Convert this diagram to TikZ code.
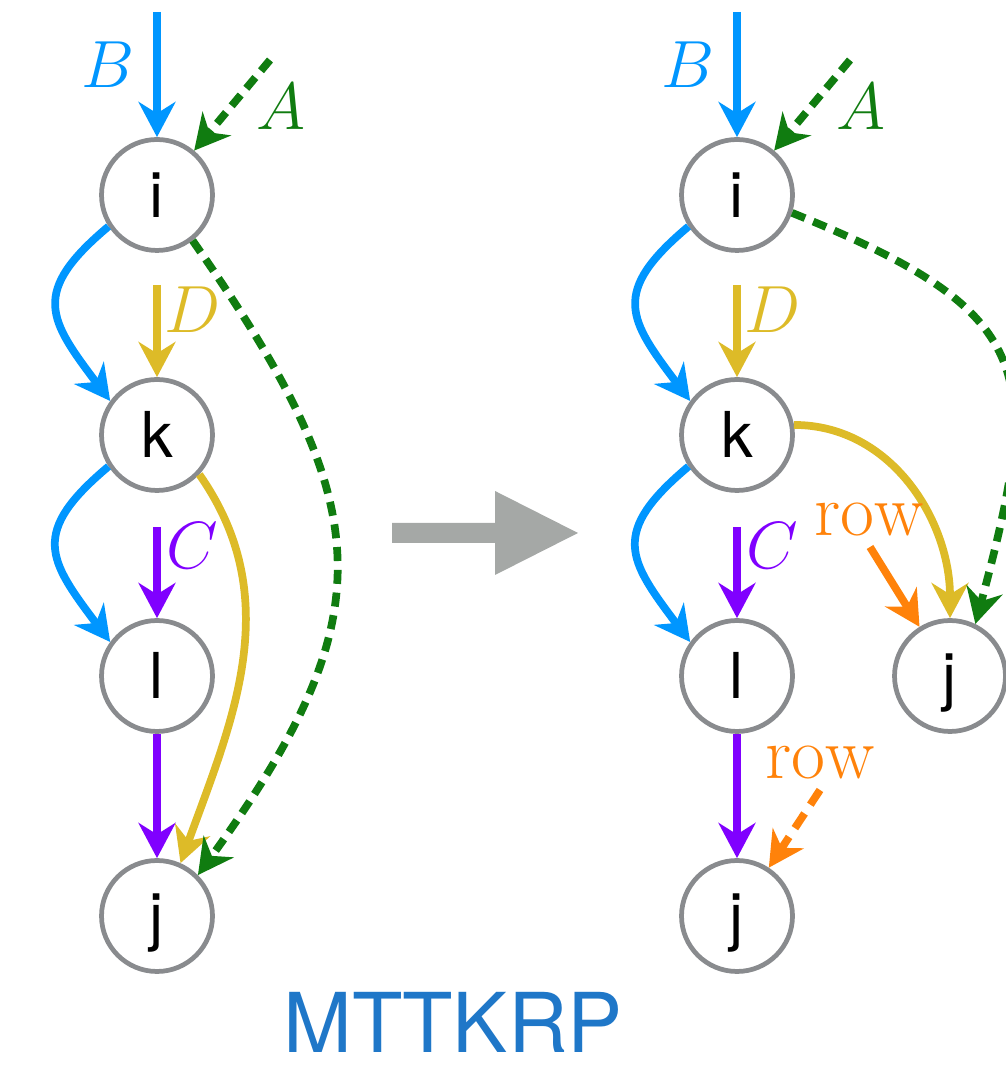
\RequirePackage{fix-cm}
\documentclass[tikz,border=0pt]{standalone}
\usepackage{fontspec}
\setsansfont{TeX Gyre Heros}
\usepackage{tikz}
\usetikzlibrary{arrows.meta}
\usetikzlibrary{positioning}
\definecolor{ringgray}{HTML}{898B8E}
\definecolor{tblue}{HTML}{0096FF}
\definecolor{tgreen}{HTML}{107C10}
\definecolor{tyellow}{HTML}{DDBB28}
\definecolor{tpurple}{HTML}{8000FF}
\definecolor{torange}{HTML}{FF820A}
\definecolor{arrowgray}{HTML}{A5A8A6}
\definecolor{titleblue}{HTML}{1F77C8}
\tikzset{idx/.style={circle,draw=ringgray,line width=2.7pt,fill=white,minimum size=2.22cm,inner sep=0pt,font=\sffamily\fontsize{36}{36}\selectfont,text height=26pt,text depth=0pt}}
\tikzset{edge/.style={line width=4.4pt,-{Stealth[length=20pt,width=21pt,inset=6.5pt]}}}
\tikzset{dashedge/.style={edge,dash pattern=on 8pt off 5pt}}
\tikzset{tensor/.style={font=\fontsize{38}{38}\selectfont,inner sep=0pt}}
\tikzset{rowlab/.style={font=\fontsize{42}{42}\selectfont,inner sep=0pt,text=torange}}

\begin{document}
\begin{tikzpicture}[x=0.02cm,y=0.02cm]
\useasboundingbox (0,0) rectangle (1005,1067);
\foreach \n/\y in {i/872,k/632,l/391,j/151} {
	\node[idx] (L\n) at (157,\y) {\n};
	\node[idx] (R\n) at (737,\y) {\n};
}
\node[idx] (Rjj) at (950,391) {j};
\foreach \side/\x in {L/157,R/737} {
	\coordinate (Bin\side) at (\x,1055);
	\coordinate (Ain\side) at (\x+113,1007);
	\coordinate (Din\side) at (\x,782);
	\coordinate (Cin\side) at (\x,540);
	\node[tensor,text=tblue] (Blab\side) at (\x-49,1002) {$B$};
	\node[tensor,text=tgreen] (Alab\side) at (\x+124,960) {$A$};
	\node[tensor,text=tyellow] (Dlab\side) at (\x+36,757) {$D$};
	\node[tensor,text=tpurple] (Clab\side) at (\x+35,521) {$C$};
	\draw[edge,tblue] (Bin\side) -- (\side i);
	\draw[dashedge,tgreen] (Ain\side) -- (\side i);
	\draw[edge,tyellow] (Din\side) -- (\side k);
	\draw[edge,tpurple] (Cin\side) -- (\side l);
	\draw[edge,tblue] (\side i.213) to[out=220,in=127,looseness=1.5] (\side k.144);
	\draw[edge,tblue] (\side k.213) to[out=220,in=127,looseness=1.5] (\side l.144);
	\draw[edge,tpurple] (\side l) -- (\side j);
}
% before
\draw[edge,tyellow] (Lk.-43) to[out=-55,in=70] (Lj.66);
\draw[dashedge,tgreen] (Li.-52) to[out=-55,in=54,looseness=1.3] (Lj.45);
% after
\draw[edge,tyellow] (Rk.10) to[out=0,in=90] (Rjj.90);
\draw[dashedge,tgreen] (Ri.-18) to[out=-22,in=75,looseness=1.5] (Rjj.64);
\node[rowlab] (row1) at (869,548) {$\mathrm{row}$};
\coordinate (row1s) at (870,520);
\draw[edge,torange] (row1s) -- (Rjj);
\node[rowlab] (row2) at (820,305) {$\mathrm{row}$};
\coordinate (row2s) at (820,277);
\draw[edge,torange,dash pattern=on 10pt off 6pt] (row2s) -- (Rj);
% transform arrow
\fill[arrowgray] (392,524) -- (495,524) -- (495,492) -- (578,534) -- (495,576) -- (495,544) -- (392,544) -- cycle;
\node[font=\sffamily\fontsize{47}{47}\selectfont,text=titleblue,inner sep=0pt] (title) at (453,45) {MTTKRP};
\end{tikzpicture}
\end{document}
